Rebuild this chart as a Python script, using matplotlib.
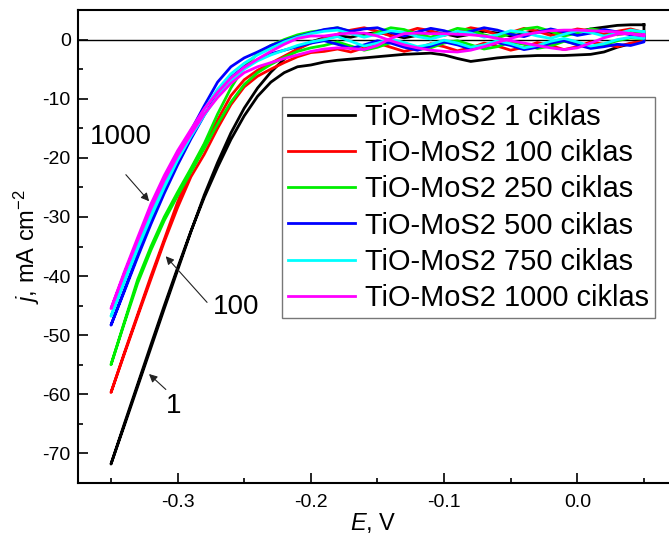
import numpy as np
import matplotlib
matplotlib.use('Agg')
import matplotlib.pyplot as plt

plt.rcParams['font.family'] = ['Liberation Sans', 'DejaVu Sans']
plt.rcParams['mathtext.fontset'] = 'custom'
plt.rcParams['mathtext.rm'] = 'Liberation Sans'
plt.rcParams['mathtext.it'] = 'Liberation Sans:italic'
plt.rcParams['axes.unicode_minus'] = False

# Potencialas, V (bendras tinklelis abiem skleidimo kryptims)
E = np.round(np.arange(-0.35, 0.0501, 0.01), 2)

labels = ['TiO-MoS2 1 ciklas', 'TiO-MoS2 100 ciklas', 'TiO-MoS2 250 ciklas',
          'TiO-MoS2 500 ciklas', 'TiO-MoS2 750 ciklas', 'TiO-MoS2 1000 ciklas']
colors = ['#000000', '#FF0000', '#00EE00', '#0000FF', '#00FFFF', '#FF00FF']

# Srovės tankis, mA/cm2 : a - grįžtamoji šaka, b - tiesioginė šaka
j1_a = [-71.8, -65.3, -58.7, -52.1, -45.5, -39.0, -32.5, -26.3, -20.8, -15.8, -11.6, -8.2, -5.5, -3.3, -1.6, -0.4,
        0.3, 0.6, 0.4, 0.9, 1.2, 0.8, 0.3, 0.7, 1.3, 1.0, 0.5, 0.9, 1.4, 1.1, 0.6, 1.0, 1.5, 1.2, 0.9, 1.3, 1.8, 2.1, 2.4, 2.5, 2.5]
j1_b = [-71.8, -65.0, -58.3, -51.6, -45.0, -38.6, -32.4, -26.7, -21.6, -16.9, -12.9, -9.6, -7.2, -5.6, -4.6, -4.3,
        -3.8, -3.5, -3.3, -3.1, -2.9, -2.7, -2.5, -2.4, -2.3, -2.6, -3.2, -3.7, -3.4, -3.1, -2.9, -2.8, -2.7, -2.7, -2.7, -2.6, -2.5, -2.1, -1.3, -0.7, -0.2]

j100_a = [-59.7, -53.0, -46.5, -40.0, -33.8, -27.5, -22.0, -17.8, -13.6, -9.5, -6.8, -5.2, -4.0, -2.8, -1.6, -0.6,
          0.2, 0.9, 1.6, 2.0, 1.4, 0.6, 1.2, 1.9, 1.5, 0.7, 1.3, 2.0, 1.6, 0.8, 1.2, 1.9, 1.4, 0.7, 1.2, 1.8, 1.5, 0.9, 1.4, 1.8, 1.2]
j100_b = [-59.7, -53.2, -46.8, -40.5, -34.2, -28.4, -23.2, -19.4, -15.0, -11.0, -8.0, -6.2, -5.0, -3.9, -2.9, -2.2,
          -2.0, -1.6, -2.1, -1.4, -0.6, -1.3, -2.0, -1.5, -0.7, -1.2, -1.9, -1.4, -0.6, -1.1, -1.8, -1.3, -0.5, -1.0, -1.7, -1.2, -0.4, -0.8, -1.2, -0.6, -0.3]

j250_a = [-55.0, -47.8, -40.6, -35.0, -30.0, -25.8, -21.8, -17.6, -12.6, -8.2, -4.6, -2.4, -1.0, 0.0, 0.8, 1.3,
          1.6, 2.0, 1.3, 0.5, 1.2, 2.0, 1.7, 0.9, 0.4, 1.1, 1.9, 1.6, 0.8, 0.3, 1.0, 1.8, 2.1, 1.4, 0.6, 1.1, 1.8, 1.5, 0.8, 1.2, 0.9]
j250_b = [-55.0, -48.0, -41.2, -35.6, -30.6, -26.4, -22.4, -18.4, -14.3, -10.6, -7.6, -5.6, -4.2, -3.0, -2.0, -1.4,
          -1.0, -0.4, -1.1, -1.8, -1.3, -0.5, -0.9, -1.7, -1.4, -0.6, -0.2, -0.9, -1.6, -1.2, -0.4, -0.8, -1.5, -1.1, -0.3, -0.7, -1.3, -0.9, -0.2, 0.3, 0.1]

j500_a = [-48.3, -42.4, -36.4, -30.4, -25.0, -20.0, -15.4, -11.2, -7.2, -4.6, -3.1, -2.1, -1.0, -0.2, 0.5, 1.1,
          1.7, 2.0, 1.4, 1.8, 2.0, 1.2, 0.6, 1.3, 1.9, 1.5, 0.8, 1.4, 2.0, 1.6, 0.9, 0.5, 1.2, 1.8, 1.3, 0.7, 1.1, 1.7, 1.3, 0.8, 0.6]
j500_b = [-48.3, -42.6, -36.8, -31.2, -26.0, -21.2, -16.8, -12.8, -9.2, -6.4, -4.6, -3.4, -2.4, -1.8, -1.2, -0.6,
          -0.2, -0.8, -1.5, -0.9, -0.2, -0.6, -1.3, -1.8, -1.1, -0.4, -0.9, -1.6, -1.2, -0.5, -1.0, -1.7, -1.3, -0.6, -0.2, -0.9, -1.5, -1.2, -0.8, -1.0, -0.4]

j750_a = [-46.8, -40.8, -35.0, -29.4, -24.4, -19.8, -15.6, -11.8, -8.4, -5.8, -4.0, -2.6, -1.5, -0.4, 0.4, 1.0,
          1.4, 1.6, 1.0, 0.4, 0.9, 1.5, 1.2, 0.5, 0.1, 0.7, 1.4, 1.1, 0.4, 0.8, 1.5, 1.2, 0.6, 0.2, 0.9, 1.5, 1.2, 0.6, 1.0, 1.6, 1.3]
j750_b = [-46.8, -41.0, -35.4, -30.0, -25.0, -20.4, -16.4, -12.8, -9.6, -7.0, -5.0, -3.6, -2.6, -1.8, -1.0, -0.4,
          0.0, 0.5, -0.3, -1.1, -0.6, 0.1, -0.5, -1.2, -0.8, -0.1, -0.6, -1.3, -0.9, -0.2, -0.7, -1.4, -1.0, -0.3, 0.2, -0.4, -1.1, -0.7, 0.0, 0.4, 0.2]

j1000_a = [-45.5, -39.3, -33.5, -27.8, -23.0, -18.8, -15.2, -11.7, -8.9, -6.5, -4.7, -3.3, -2.0, -0.8, 0.2, 0.6,
           0.6, 0.9, 1.1, 1.1, 0.6, -0.2, -0.9, -1.4, -1.8, -2.0, -2.1, -1.8, -1.2, -0.5, 0.2, 0.8, 1.2, 1.5, 1.6, 1.6, 1.5, 1.4, 1.3, 1.0, 0.8]
j1000_b = [-45.5, -39.6, -34.0, -28.6, -23.8, -19.6, -16.0, -12.6, -9.8, -7.4, -5.6, -4.6, -3.9, -3.2, -2.6, -2.0,
           -1.6, -1.4, -1.5, -1.7, -1.0, 0.2, 1.0, 1.1, 1.0, 1.0, 0.9, 0.8, 0.6, 0.2, -0.2, -0.6, -1.0, -1.4, -1.7, -1.4, -0.6, 0.3, 0.9, 1.0, 0.6]

series = [(j1_a, j1_b), (j100_a, j100_b), (j250_a, j250_b),
          (j500_a, j500_b), (j750_a, j750_b), (j1000_a, j1000_b)]

fig = plt.figure(figsize=(6.69, 5.35), dpi=100)
ax = fig.add_axes([0.1161, 0.0972, 0.8839, 0.8841])

ax.axhline(0, color='black', linewidth=1.0, zorder=1)

for (ja, jb), c, lab in zip(series, colors, labels):
    # kilpa: nuo 0.05 V iki -0.35 V ir atgal
    x = np.concatenate([E[::-1], E, [E[-1]]])
    y = np.concatenate([np.array(ja)[::-1], jb, [ja[-1]]])
    ax.plot(x, y, color=c, linewidth=2.0, label=lab, zorder=2)

ax.set_xlim(-0.375, 0.0688)
ax.set_ylim(-75, 5)
ax.set_xticks([-0.3, -0.2, -0.1, 0.0])
ax.set_xticklabels(['-0.3', '-0.2', '-0.1', '0.0'])
ax.set_xticks(np.arange(-0.35, 0.06, 0.05), minor=True)
ax.set_yticks(np.arange(-70, 1, 10))
ax.set_yticks(np.arange(-75, 5, 5), minor=True)

ax.tick_params(which='both', direction='in', top=False, right=False, width=1.2, labelsize=14)
ax.tick_params(which='major', length=7)
ax.tick_params(which='minor', length=3.5)
ax.tick_params(axis='x', pad=8)
ax.tick_params(axis='y', pad=5)
for s in ['left', 'bottom', 'top']:
    ax.spines[s].set_linewidth(1.5)
ax.spines['right'].set_visible(False)

ax.set_xlabel(r'$E$, V', fontsize=17, labelpad=0)
ax.set_ylabel(r'$j$, mA cm$^{-2}$', fontsize=17, labelpad=0)

# Anotacijos
arrow = dict(arrowstyle='-|>', color='#222222', lw=0.8, mutation_scale=12)
ax.annotate('', xy=(-0.320, -27.7), xytext=(-0.3402, -22.5), arrowprops=arrow)
ax.text(-0.3425, -16.5, '1000', fontsize=20, ha='center', va='center')
ax.annotate('', xy=(-0.3103, -36.3), xytext=(-0.2765, -44.8), arrowprops=arrow)
ax.text(-0.2563, -45.3, '100', fontsize=20, ha='center', va='center')
ax.annotate('', xy=(-0.323, -56.25), xytext=(-0.3073, -59.5), arrowprops=arrow)
ax.text(-0.3028, -62.0, '1', fontsize=20, ha='center', va='center')

leg = ax.legend(loc='upper right', bbox_to_anchor=(0.976, 0.816), fontsize=20.9,
                handlelength=2.3, handletextpad=0.35, borderpad=0.2, labelspacing=0.285,
                borderaxespad=0, fancybox=False, framealpha=1)
leg.get_frame().set_edgecolor('#777777')
leg.get_frame().set_linewidth(1.0)

plt.savefig('out.png', dpi=100)
